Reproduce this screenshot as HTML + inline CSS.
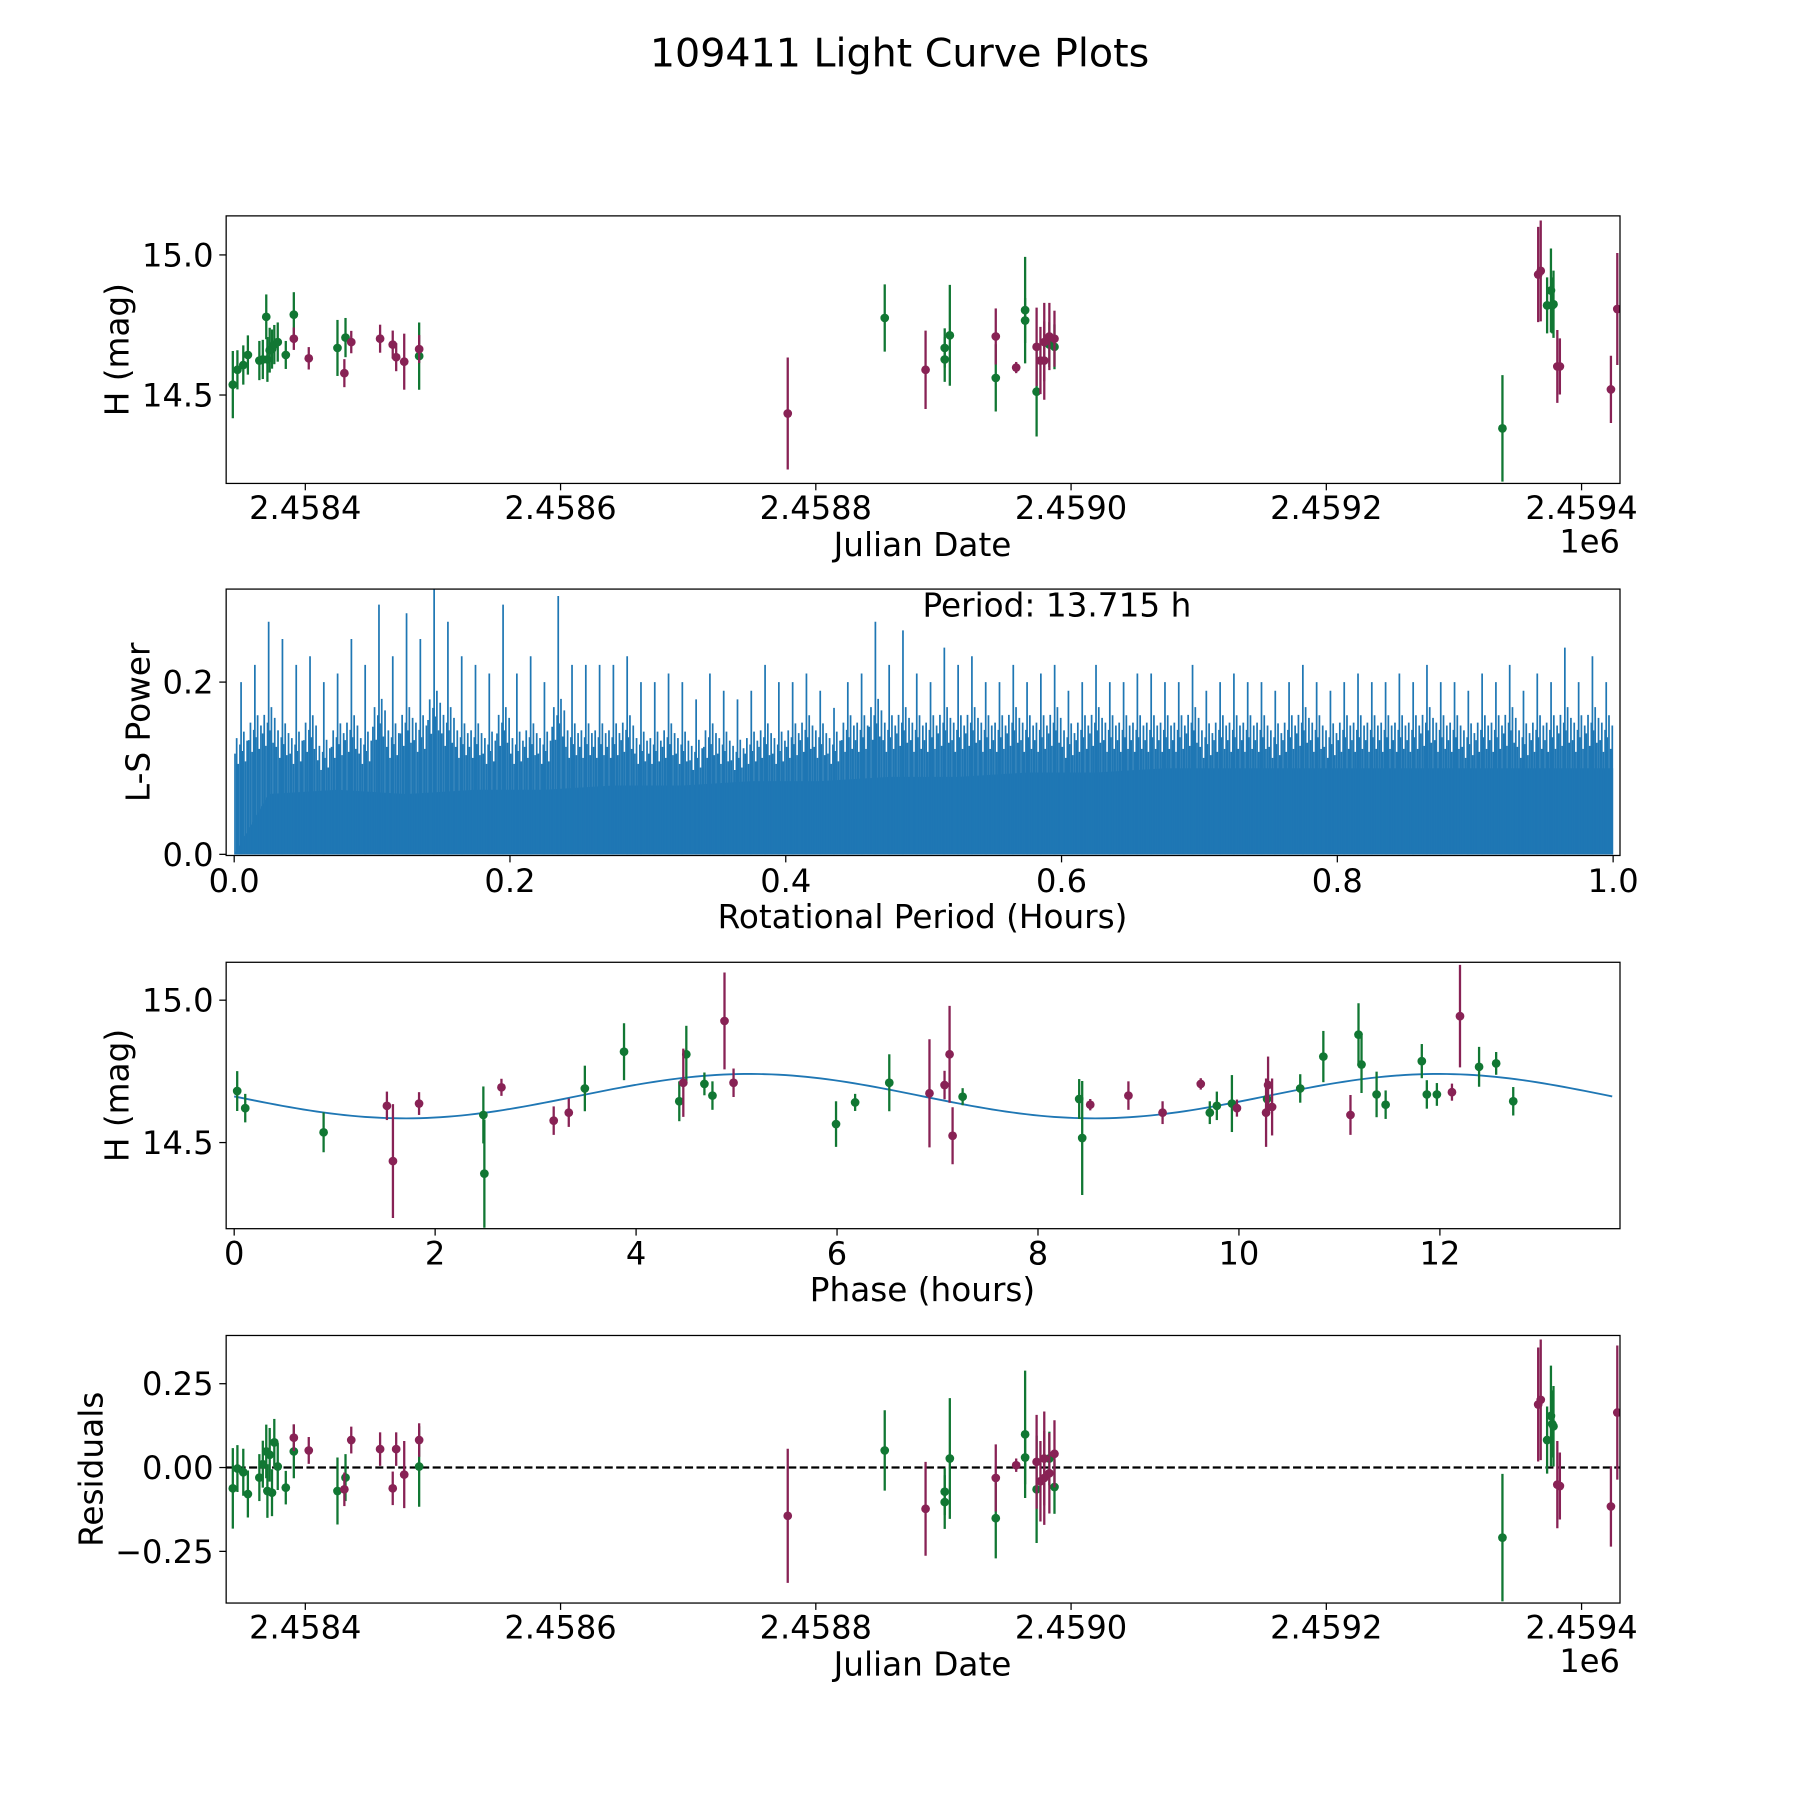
<!DOCTYPE html>
<html><head><meta charset="utf-8">
<style>
html,body{margin:0;padding:0;background:#fff;}
svg{display:block;font-family:"DejaVu Sans","Liberation Sans",sans-serif;}
</style></head>
<body>
<svg id="fig" width="1800" height="1800" viewBox="0 0 1560 1560" xmlns="http://www.w3.org/2000/svg">
<rect width="1560" height="1560" fill="#fff"/>
<g id="root" transform="matrix(0.99424 0 0 0.9952 1.13 0)">
<text x="783" y="58" font-size="34.5" text-anchor="middle">109411 Light Curve Plots</text>
</g>
</svg>
<script>
// ---- Data (days relative to JD 2458400) ----
const greenDays = [-56.8,-53.2,-48.6,-45.0,-36.0,-33.3,-30.6,-29.7,-27.9,-26.1,-24.3,-21.6,-15.3,-9.0,25.2,31.5,89.2,454,501,501,505,541,564,564,573,583,587,938,973,976,977,978];
const greenMag = [14.537,14.590,14.607,14.643,14.623,14.627,14.779,14.627,14.660,14.664,14.680,14.689,14.643,14.787,14.668,14.705,14.639,14.775,14.668,14.627,14.713,14.561,14.803,14.766,14.512,14.680,14.672,14.381,14.820,14.873,14.820,14.824];
const greenErr = [0.12,0.07,0.07,0.07,0.07,0.07,0.08,0.08,0.08,0.07,0.07,0.07,0.05,0.08,0.1,0.07,0.12,0.12,0.07,0.08,0.18,0.12,0.19,0.08,0.16,0.08,0.08,0.19,0.1,0.15,0.1,0.12];
const greenRes = [-0.062,-0.003,-0.014,-0.079,-0.03,0.01,0.048,-0.07,0.038,-0.075,0.075,0.003,-0.06,0.048,-0.07,-0.03,0.003,0.051,-0.072,-0.103,0.027,-0.151,0.099,0.03,-0.065,0.027,-0.058,-0.209,0.082,0.154,0.13,0.123];
const magDays = [-9.0,2.7,30.6,36.0,58.6,68.5,71.2,77.5,89.2,378,486,541,557,573,576,579,579,583,587,966,968,981,983,1023,1028];
const magMag = [14.701,14.631,14.578,14.689,14.701,14.680,14.635,14.619,14.664,14.434,14.590,14.709,14.598,14.672,14.623,14.623,14.689,14.709,14.701,14.930,14.943,14.602,14.602,14.520,14.807];
const magErr = [0.04,0.04,0.05,0.04,0.05,0.05,0.05,0.1,0.05,0.2,0.14,0.1,0.02,0.14,0.12,0.14,0.14,0.12,0.1,0.17,0.18,0.13,0.1,0.12,0.2];
const magRes = [0.089,0.051,-0.065,0.082,0.055,-0.062,0.055,-0.021,0.082,-0.144,-0.123,-0.031,0.007,0.017,-0.041,-0.031,0.027,-0.017,0.041,0.188,0.202,-0.051,-0.055,-0.116,0.164];
// phase-folded
const greenPhase = [0.03,0.11,0.89,2.48,2.49,3.49,3.88,4.43,4.5,4.68,4.76,5.99,6.18,6.52,7.25,8.41,8.44,9.71,9.78,9.93,10.28,10.61,10.84,11.19,11.22,11.37,11.46,11.82,11.87,11.97,12.39,12.56,12.73];
const greenPhaseMag = [14.681,14.621,14.536,14.597,14.391,14.690,14.819,14.645,14.810,14.706,14.665,14.565,14.641,14.710,14.661,14.653,14.516,14.605,14.629,14.637,14.653,14.690,14.802,14.879,14.774,14.669,14.633,14.786,14.669,14.669,14.766,14.778,14.645];
const greenPhaseErr = [0.07,0.05,0.07,0.1,0.19,0.08,0.1,0.07,0.1,0.04,0.05,0.08,0.03,0.1,0.03,0.07,0.2,0.04,0.05,0.1,0.06,0.05,0.09,0.11,0.1,0.08,0.05,0.06,0.05,0.04,0.07,0.04,0.05];
const magPhase = [1.52,1.58,1.84,2.66,3.18,3.33,4.47,4.88,4.97,6.92,7.07,7.12,7.15,8.52,8.9,9.24,9.62,9.98,10.27,10.29,10.33,11.11,12.12,12.2];
const magPhaseMag = [14.629,14.435,14.637,14.694,14.577,14.605,14.710,14.927,14.710,14.673,14.702,14.810,14.524,14.633,14.665,14.605,14.706,14.621,14.605,14.702,14.625,14.597,14.677,14.944];
const magPhaseErr = [0.05,0.2,0.04,0.03,0.05,0.05,0.12,0.17,0.05,0.19,0.05,0.17,0.1,0.02,0.05,0.04,0.02,0.03,0.12,0.1,0.1,0.07,0.03,0.18];
// periodogram envelope (max power per 0.01 bin), secondary peaks, and solid base (per 0.05)
const lsPeak = [0.2,0.22,0.27,0.25,0.22,0.23,0.2,0.21,0.25,0.22,0.29,0.23,0.28,0.25,0.31,0.27,0.23,0.22,0.21,0.29,0.21,0.23,0.2,0.3,0.22,0.22,0.22,0.22,0.23,0.2,0.2,0.21,0.2,0.18,0.21,0.19,0.18,0.19,0.22,0.2,0.2,0.21,0.19,0.17,0.2,0.21,0.27,0.22,0.26,0.21,0.2,0.24,0.22,0.23,0.2,0.2,0.22,0.2,0.21,0.22,0.19,0.2,0.22,0.2,0.2,0.21,0.21,0.2,0.2,0.22,0.19,0.2,0.21,0.2,0.2,0.19,0.2,0.22,0.2,0.19,0.2,0.21,0.2,0.2,0.21,0.2,0.22,0.2,0.2,0.19,0.21,0.2,0.22,0.19,0.21,0.2,0.24,0.2,0.23,0.2];
const lsBase = [0.07,0.075,0.07,0.075,0.075,0.08,0.08,0.085,0.085,0.09,0.09,0.095,0.095,0.1,0.1,0.1,0.1,0.1,0.1,0.1];
const lsSecond = [0.15,0.17,0.18,0.16,0.15,0.17,0.14,0.16,0.17,0.15,0.19,0.16,0.18,0.17,0.2,0.18,0.16,0.16,0.15,0.18,0.15,0.16,0.15,0.19,0.16,0.16,0.16,0.16,0.17,0.15,0.15,0.16,0.15,0.14,0.16,0.15,0.14,0.15,0.16,0.15,0.16,0.17,0.16,0.15,0.17,0.17,0.19,0.17,0.18,0.17,0.17,0.18,0.17,0.18,0.17,0.17,0.18,0.17,0.17,0.18,0.16,0.17,0.18,0.17,0.17,0.17,0.17,0.17,0.17,0.18,0.16,0.17,0.17,0.17,0.17,0.16,0.17,0.18,0.17,0.16,0.17,0.17,0.17,0.17,0.17,0.17,0.18,0.17,0.17,0.16,0.17,0.17,0.18,0.16,0.17,0.17,0.18,0.17,0.18,0.17];
const jdTicks = [0,200,400,600,800,1000];
const jdTickLabels = ["2.4584","2.4586","2.4588","2.4590","2.4592","2.4594"];
const magTicks = [14.5,15.0];
const magTickLabels = ["14.5","15.0"];
const lsXTicks = [0,0.2,0.4,0.6,0.8,1.0];
const lsXTickLabels = ["0.0","0.2","0.4","0.6","0.8","1.0"];
const lsYTicks = [0,0.2];
const lsYTickLabels = ["0.0","0.2"];
const phaseTicks = [0,2,4,6,8,10,12];
const phaseTickLabels = ["0","2","4","6","8","10","12"];
const resTicks = [-0.25,0,0.25];
const resTickLabels = ["\u22120.25","0.00","0.25"];
const modelMean = 14.663, modelAmp = 0.078, modelPeak = 5.13, modelPeriod = 13.715;

// ---- helpers ----
const NS = "http://www.w3.org/2000/svg";
const svg = document.getElementById('fig');
const root = document.getElementById('root');


function mk(tag, attrs, parent){
  const e = document.createElementNS(NS, tag);
  for (const k in attrs) e.setAttribute(k, attrs[k]);
  (parent||root).appendChild(e);
  return e;
}
const GREEN = "#117733", MAG = "#882255", BLUE = "#1f77b4";
const TICKFS = 28, TITLEFS = 28.5;
function lin(d0,d1,r0,r1){ return v => r0 + (v-d0)/(d1-d0)*(r1-r0); }

function panel(name, top, bottom, xs, ys, xTicks, xLabels, yTicks, yLabels, xTitle, yTitle, yTitleX, xTitleY, tickLabelY, offset){
  const g = mk('g', {});
  
  
  xTicks.forEach((t,i)=>{
    const x = xs(t);
    const tk = mk('line',{x1:x,x2:x,y1:bottom,y2:bottom+6,stroke:'#000','stroke-width':1.1},g);
    
    
    const tl = mk('text',{x:x,y:tickLabelY,'font-size':TICKFS,'text-anchor':'middle'},g);
    
    
    tl.textContent = xLabels[i];
  });
  yTicks.forEach((t,i)=>{
    const y = ys(t);
    const tk = mk('line',{x1:196-6,x2:196,y1:y,y2:y,stroke:'#000','stroke-width':1.1},g);
    
    
    const tl = mk('text',{x:185,y:y+10,'font-size':TICKFS,'text-anchor':'end'},g);
    
    
    tl.textContent = yLabels[i];
  });
  const xt = mk('text',{x:803,y:xTitleY,'font-size':TITLEFS,'text-anchor':'middle'},g);
  
  
  xt.textContent = xTitle;
  const cy = (top+bottom)/2;
  const yt = mk('text',{x:yTitleX,y:cy,'font-size':TITLEFS,'text-anchor':'middle',transform:`rotate(-90 ${yTitleX} ${cy})`},g);
  
  
  yt.textContent = yTitle;
  if (offset){
    const ot = mk('text',{x:1411,y:xTitleY-3,'font-size':TICKFS,'text-anchor':'end'},g);
    
    
    ot.textContent = '1e6';
  }
  return g;
}
function frame(top,bottom){
  const r = mk('rect',{x:196,y:top,width:1215,height:bottom-top,fill:'none',stroke:'#000','stroke-width':1.1});
  
  
}
function errpts(gname, xsArr, ysArr, errs, color, xs, ys, clipId){
  const g = mk('g',{'clip-path':`url(#${clipId})`});
  
  
  xsArr.forEach((v,i)=>{
    const x = xs(v), y = ys(ysArr[i]);
    const l = mk('line',{x1:x,x2:x,y1:ys(ysArr[i]-errs[i]),y2:ys(ysArr[i]+errs[i]),stroke:color,'stroke-width':2},g);
    
    
    const c = mk('circle',{cx:x,cy:y,r:3.8,fill:color},g);
    
    
  });
}
function clip(id, top, bottom){
  const defs = mk('defs',{});
  const cp = mk('clipPath',{id:id},defs);
  mk('rect',{x:196,y:top,width:1215,height:bottom-top},cp);
}

// ---- Panel 1: light curve ----
const P1T=188,P1B=421;
const x1 = lin(0,200,265,487.5);
const y1 = lin(14.5,15.0,344,222);
clip('c1',P1T,P1B);
panel('light-curve-panel',P1T,P1B,x1,y1,jdTicks,jdTickLabels,magTicks,magTickLabels,'Julian Date','H (mag)',111,484,452,true);
errpts('green-series-lc',greenDays,greenMag,greenErr,GREEN,x1,y1,'c1');
errpts('magenta-series-lc',magDays,magMag,magErr,MAG,x1,y1,'c1');
frame(P1T,P1B);

// ---- Panel 2: periodogram ----
const P2T=513,P2B=745;
const x2 = lin(0,1,203,1405);
const y2 = lin(0,0.2,744,594);
clip('c2',P2T,P2B);
panel('periodogram-panel',P2T,P2B,x2,y2,lsXTicks,lsXTickLabels,lsYTicks,lsYTickLabels,'Rotational Period (Hours)','L-S Power',129,808,777,false);
const pg = mk('g',{'clip-path':'url(#c2)'});


let bpts = `${x2(0)},${y2(0)} `;
lsBase.forEach((b,i)=>{ bpts += `${x2((i+0.5)*0.05)},${y2(b)} `; });
bpts += `${x2(1)},${y2(lsBase[lsBase.length-1])} ${x2(1)},${y2(0)}`;
const bp = mk('polygon',{points:bpts,fill:BLUE},pg);


const nb = lsPeak.length;
const fracs = [[0.06,0.78],[0.18,0.9],[0.3,0.7],[0.42,0.85],[0.5,-1],[0.58,0.8],[0.7,0.95],[0.82,0.72],[0.94,0.88]];
for (let i=0;i<nb;i++){
  const w = 1/nb;
  fracs.forEach(s=>{
    const x = x2(i*w + s[0]*w);
    const h = s[1] < 0 ? lsPeak[i] : lsSecond[i]*s[1];
    const l = mk('line',{x1:x,x2:x,y1:y2(0),y2:y2(h),stroke:BLUE,'stroke-width':1.5},pg);
    
    
  });
}
frame(P2T,P2B);
const pt = mk('text',{x:803,y:537,'font-size':TITLEFS});


pt.textContent = 'Period: 13.715 h';

// ---- Panel 3: phase folded ----
const P3T=838,P3B=1070;
const x3 = lin(0,12,203,1254);
const y3 = lin(14.5,15.0,995,871);
clip('c3',P3T,P3B);
panel('phase-folded-panel',P3T,P3B,x3,y3,phaseTicks,phaseTickLabels,magTicks,magTickLabels,'Phase (hours)','H (mag)',111,1133,1101,false);
let mp = '';
for (let k=0;k<=200;k++){
  const p = modelPeriod*k/200;
  const m = modelMean + modelAmp*Math.cos(2*Math.PI*(p-modelPeak)/(modelPeriod/2));
  mp += (k?'L':'M') + x3(p).toFixed(2)+','+y3(m).toFixed(2);
}
const ml = mk('path',{d:mp,fill:'none',stroke:BLUE,'stroke-width':1.6,'clip-path':'url(#c3)'});


errpts('green-series-phase',greenPhase,greenPhaseMag,greenPhaseErr,GREEN,x3,y3,'c3');
errpts('magenta-series-phase',magPhase,magPhaseMag,magPhaseErr,MAG,x3,y3,'c3');
frame(P3T,P3B);

// ---- Panel 4: residuals ----
const P4T=1163,P4B=1396;
const y4 = lin(0,0.25,1278,1205);
clip('c4',P4T,P4B);
panel('residuals-panel',P4T,P4B,x1,y4,jdTicks,jdTickLabels,resTicks,resTickLabels,'Julian Date','Residuals',88,1459,1427,true);
const zl = mk('line',{x1:196,x2:1411,y1:y4(0),y2:y4(0),stroke:'#000','stroke-width':2,'stroke-dasharray':'7,3'});


errpts('green-series-res',greenDays,greenRes,greenErr,GREEN,x1,y4,'c4');
errpts('magenta-series-res',magDays,magRes,magErr,MAG,x1,y4,'c4');
frame(P4T,P4B);
</script>
</body></html>
